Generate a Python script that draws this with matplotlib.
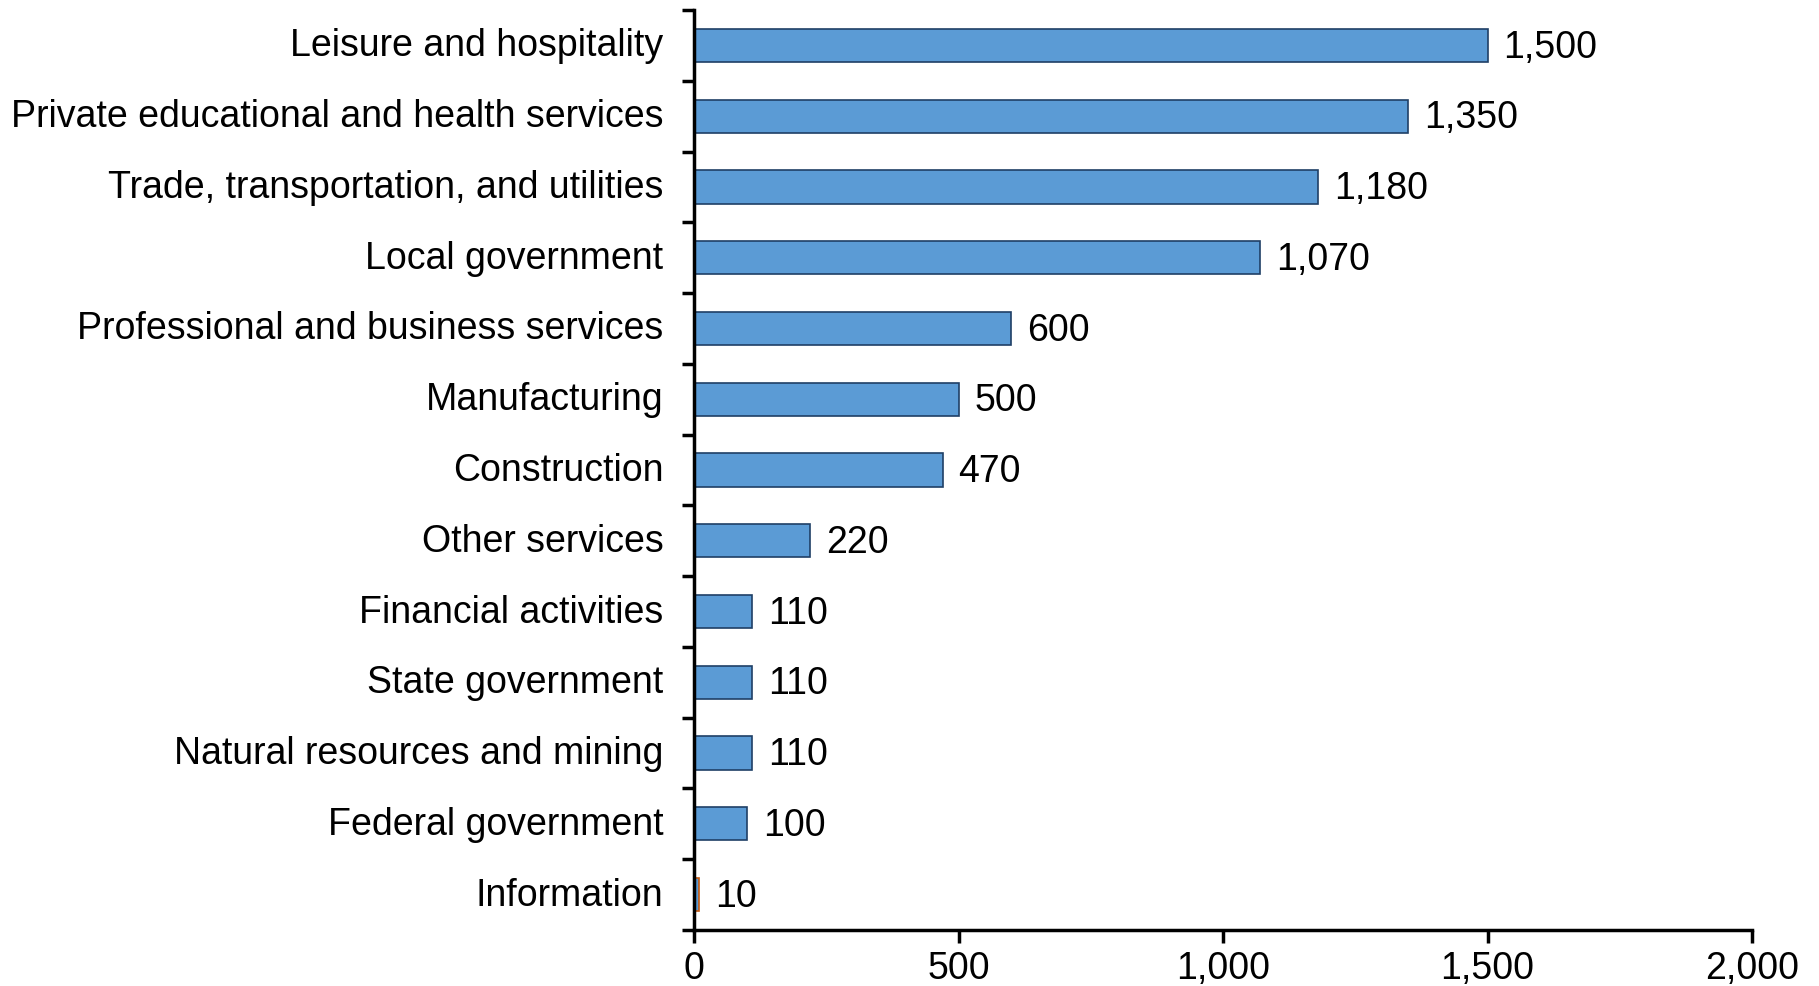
import matplotlib
matplotlib.use("Agg")
import matplotlib.pyplot as plt
import matplotlib.transforms as mtransforms
import numpy as np

plt.rcParams['font.family'] = ['Liberation Sans', 'DejaVu Sans']

categories = ["Leisure and hospitality",
              "Private educational and health services",
              "Trade, transportation, and utilities",
              "Local government",
              "Professional and business services",
              "Manufacturing",
              "Construction",
              "Other services",
              "Financial activities",
              "State government",
              "Natural resources and mining",
              "Federal government",
              "Information"]
values = [1500, 1350, 1180, 1070, 600, 500, 470, 220, 110, 110, 110, 100, 10]
xticks = [0, 500, 1000, 1500, 2000]

fig = plt.figure(figsize=(18.19, 9.86), dpi=100)
ax = fig.add_axes([694/1819, 56/986, (1752-694)/1819, (930-10)/986])

n = len(categories)
ypos = np.arange(n)[::-1]
edges = ['#1F3F66'] * (n - 1) + ['#C55A11']
ax.barh(ypos, values, height=0.47, color='#5B9BD5', edgecolor=edges, linewidth=1.2)

for y, v in zip(ypos, values):
    ax.text(v + 30, y - 0.03, f"{v:,}", va='center', ha='left', fontsize=27)

ax.set_xlim(0, 2000)
ax.set_ylim(-0.5, n - 0.5)
ax.set_xticks(xticks)
ax.set_xticklabels([f"{t:,}" for t in xticks], fontsize=27)
ax.set_yticks(ypos)
ax.set_yticklabels(categories, fontsize=27)
ax.set_yticks(np.arange(-0.5, n, 1), minor=True)
ax.tick_params(axis='y', which='major', length=0, pad=22)
ax.tick_params(axis='y', which='minor', length=9, width=2.5, direction='out')
ax.tick_params(axis='x', length=9, width=2.5, direction='out', pad=6)
for s in ['top', 'right']:
    ax.spines[s].set_visible(False)
for s in ['left', 'bottom']:
    ax.spines[s].set_linewidth(2.5)

# nudge category labels up a little, as in the original
shift = mtransforms.ScaledTranslation(0, 3/100, fig.dpi_scale_trans)
for lab in ax.get_yticklabels():
    lab.set_transform(lab.get_transform() + shift)

fig.savefig("out.png", dpi=100)
